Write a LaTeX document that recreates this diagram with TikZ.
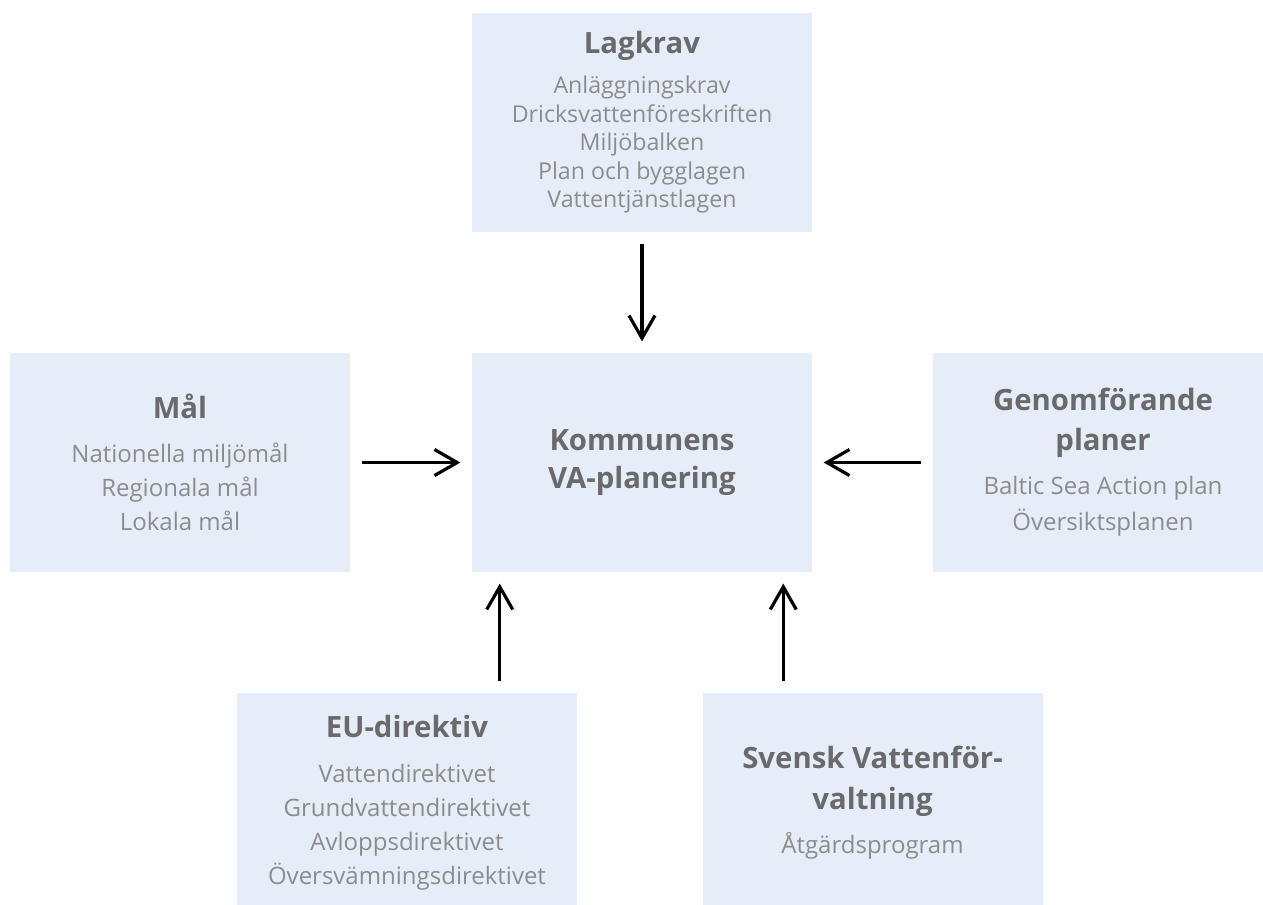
\documentclass[tikz,border=0pt]{standalone}
\usepackage{fontspec}
\setmainfont{Open Sans}
\usetikzlibrary{arrows.meta}
\definecolor{boxfill}{HTML}{E7EDF8}
\definecolor{titlegray}{HTML}{6A6A6A}
\definecolor{bodygray}{HTML}{8C8C8C}
\newcommand{\ttl}{\fontsize{22}{25.5}\selectfont\bfseries\color{titlegray}}
\newcommand{\bdy}{\fontsize{18}{25.5}\selectfont\mdseries\color{bodygray}}
\newcommand{\bdys}{\fontsize{17.4}{21.4}\selectfont\mdseries\color{bodygray}}
\begin{document}
\begin{tikzpicture}[x=0.75pt,y=-0.75pt,
  box/.style={fill=boxfill, draw=none, minimum width=255pt, minimum height=164.25pt,
    inner sep=0pt, align=center, font=\fontsize{16}{25.5}\selectfont},
  arr/.style={line width=2.4pt, -{Straight Barb[length=17pt,width=19.5pt]},
    shorten <=8.5pt, shorten >=8.5pt}]
\useasboundingbox (0,0) rectangle (1263,904);
\fill[white] (0,0) rectangle (1263,904);

\node[box, font=\fontsize{16}{21.4}\selectfont] (lag) at (642,122.5)
  {{\ttl Lagkrav}\\[8.6pt]{\bdys Anläggningskrav}\\{\bdys Dricksvattenföreskriften}\\{\bdys Miljöbalken}\\{\bdys Plan och bygglagen}\\{\bdys Vattentjänstlagen}};

\node[box] (mal) at (180,462.5)
  {{\ttl Mål}\\[7.5pt]{\bdy Nationella miljömål}\\{\bdy Regionala mål}\\{\bdy Lokala mål}};

\node[box] (kom) at (642,462.5)
  {{\ttl Kommunens}\\[3pt]{\ttl VA-planering}};

\node[box] (gen) at (1103,462.5)
  {{\ttl Genomförande}\\[4.5pt]{\ttl planer}\\[7.5pt]{\bdy Baltic Sea Action plan}\\[1.5pt]{\bdy Översiktsplanen}};

\node[box] (eu) at (407,802.5)
  {{\ttl EU-direktiv}\\[8pt]{\bdy Vattendirektivet}\\{\bdy Grundvattendirektivet}\\{\bdy Avloppsdirektivet}\\{\bdy Översvämningsdirektivet}};

\node[box] (sv) at (872.5,802.5)
  {{\ttl Svensk Vattenför-}\\[5pt]{\ttl valtning}\\[7.5pt]{\bdy Åtgärdsprogram}};

\draw[arr] (lag.south) -- (kom.north);
\draw[arr] (mal.east) -- (kom.west);
\draw[arr] (gen.west) -- (kom.east);
\draw[arr] ([xshift=21pt]kom.south west |- eu.north) -- ([xshift=21pt]kom.south west);
\draw[arr] ([xshift=-21.75pt]kom.south east |- sv.north) -- ([xshift=-21.75pt]kom.south east);
\end{tikzpicture}
\end{document}
